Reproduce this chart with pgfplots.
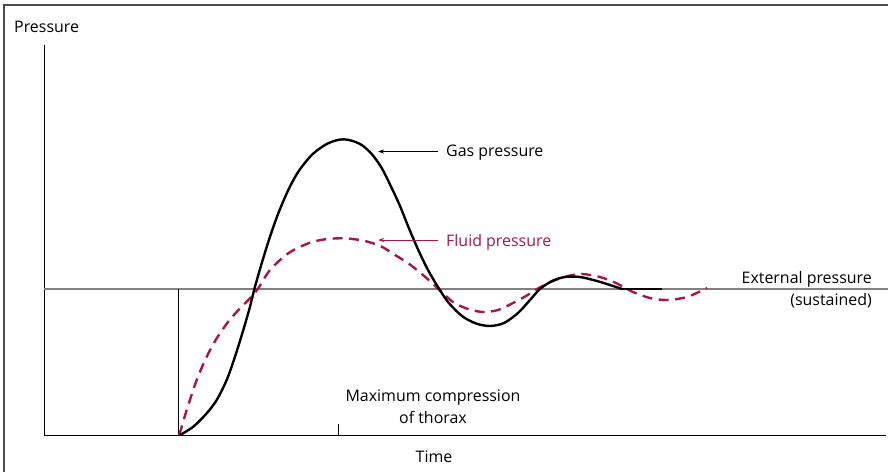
\documentclass[border=0pt]{standalone}
\usepackage{pgfplots}
\pgfplotsset{compat=1.18}
\usepackage{fontspec}
\setmainfont{Open Sans}
\usetikzlibrary{arrows.meta}
\definecolor{fluid}{RGB}{170,20,70}
\tikzset{lbl/.style={inner sep=0pt, font=\fontsize{16}{19}\selectfont}}
\begin{document}
\begin{tikzpicture}
\begin{axis}[scale only axis, width=888bp, height=472bp,
  xmin=0, xmax=888, ymin=0, ymax=472, y dir=reverse,
  hide axis, clip=false]
% frame
\draw[line width=1.4pt, black!70] (axis cs:4,472) -- (axis cs:4,5) -- (axis cs:888,5);
% axes
\draw[line width=1pt] (axis cs:44,45) -- (axis cs:44,435) -- (axis cs:886,435);
\draw[line width=1.2pt, black!50] (axis cs:44,289) -- (axis cs:888,289);
\draw[line width=0.9pt] (axis cs:178,289) -- (axis cs:178,435);
\draw[line width=0.9pt] (axis cs:338,424) -- (axis cs:338,435);
% fluid pressure
\addplot[fluid, line width=2.4pt, smooth, dash pattern=on 10pt off 6.5pt] coordinates {
(179.3,435) (186.7,410) (196.7,380) (206.7,356.7) (216.7,338.3) (228.3,321.7) (240,308.3)
(250,298.3) (258.3,288.3) (270,270) (288.3,253.3) (308.3,243.3) (325,239.3) (345,238.3)
(365,241) (381.7,246.7) (395,255) (408.3,263.3) (425,276.7) (438,288.5) (453,302) (468,309)
(483,312) (498,310) (513,303) (526,296) (537,289) (553,281) (568,276) (582,274) (600,277)
(616,283) (633,292) (650,298) (667,300) (687,297) (707,288)
};
% gas pressure
\addplot[black, line width=2.4pt, smooth] coordinates {
(180,435) (193.3,426.7) (206.7,413.3) (216.7,400) (226.7,380) (235,356.7) (243.3,330)
(250,306.7) (254.3,289.3) (261.7,263.3) (270,236.7) (278.3,213.3) (288.3,190) (298.3,171.7)
(311.7,155) (325,145) (335,140.7) (343.3,139.3) (351.7,140.7) (361.7,145) (371.7,154)
(381.7,168) (391.7,188) (400,206) (408.3,226.7) (418.3,250) (428,270) (438,287)
(448,302) (462,316) (476,323.5) (490,326) (504,323) (518,313) (530,300) (540,289)
(552,281) (565,277) (580,277) (597,281) (610,285) (622,289)
};
\addplot[black, line width=2.4pt] coordinates {(622,289) (662,289)};
% labels
\node[lbl, anchor=base west] at (axis cs:14,33) {Pressure};
\node[lbl, anchor=base] at (axis cs:434,462) {Time};
\node[lbl, anchor=base] at (axis cs:433,401) {Maximum compression};
\node[lbl, anchor=base] at (axis cs:433,423) {of thorax};
\node[lbl, anchor=base east] at (axis cs:872,283) {External pressure};
\node[lbl, anchor=base east] at (axis cs:872,305) {(sustained)};
\node[lbl, anchor=base west] at (axis cs:446,156) {Gas pressure};
\node[lbl, anchor=base west, text=fluid] at (axis cs:446,246) {Fluid pressure};
\draw[line width=0.8pt, -{Stealth[length=6pt,width=4pt]}] (axis cs:438,151.5) -- (axis cs:378,151.5);
\draw[fluid, line width=0.8pt, -{Stealth[length=6pt,width=4pt]}] (axis cs:438,240) -- (axis cs:378,240);
\end{axis}
\pgfresetboundingbox
\path (current axis.south west) rectangle (current axis.north east);
\end{tikzpicture}
\end{document}
